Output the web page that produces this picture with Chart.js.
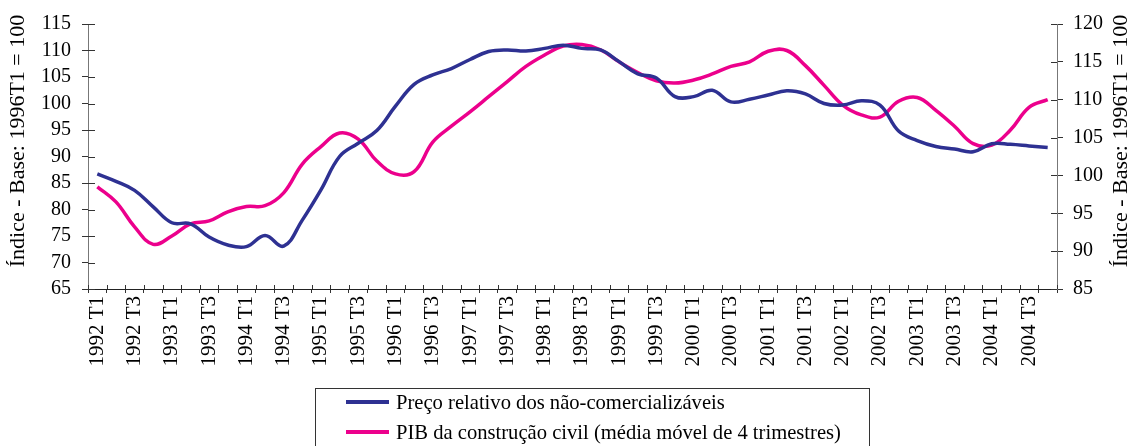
<!DOCTYPE html>
<html>
<head>
<meta charset="utf-8">
<script src="https://cdn.jsdelivr.net/npm/chart.js@4/dist/chart.umd.min.js"></script>
<style>
  body { margin: 0; background: #fff; }
  #caixa { position: relative; width: 1131px; height: 446px; overflow: hidden; }
  #legenda {
    position: absolute; left: 315px; top: 388px; width: 553px; height: 80px;
    border: 1px solid #333; font-family: "Liberation Serif", serif; font-size: 20.6px; color: #000;
  }
  .item { position: absolute; left: 0; height: 30px; line-height: 30px; white-space: nowrap; }
  .traco { position: absolute; left: 30px; top: 13px; width: 43px; height: 4px; }
  .texto { position: absolute; left: 80px; top: 0; }
</style>
</head>
<body>
<div id="caixa">
  <canvas id="grafico" width="1131" height="446"></canvas>
  <div id="legenda"></div>
</div>
<script>
const anos = [1992, 1993, 1994, 1995, 1996, 1997, 1998, 1999, 2000, 2001, 2002, 2003, 2004];
const trimestres = ['T1', 'T2', 'T3', 'T4'];

// Preço relativo dos não-comercializáveis (eixo esquerdo)
const precoRelativo = [
  86.7, 85.3, 83.6, 80.5, 77.5, 77.3, 74.8, 73.3, 73.0, 75.1, 73.1, 78.0, 83.7,
  90.0, 92.5, 94.9, 99.5, 103.6, 105.4, 106.6, 108.3, 109.8, 110.1, 109.9, 110.4, 111.0,
  110.4, 110.1, 107.9, 105.6, 104.8, 101.3, 101.3, 102.5, 100.3, 100.8, 101.6, 102.4, 101.8,
  100.0, 99.7, 100.5, 99.7, 94.8, 93.0, 91.9, 91.4, 90.9, 92.4, 92.3, 92.0, 91.7
];

// PIB da construção civil, média móvel de 4 trimestres (eixo direito)
const pibConstrucao = [
  98.5, 96.5, 93.2, 90.9, 92.0, 93.6, 94.0, 95.2, 95.9, 96.0, 97.7, 101.5, 103.8,
  105.6, 104.8, 101.9, 100.2, 100.5, 104.4, 106.5, 108.4, 110.4, 112.4, 114.4, 115.9, 117.1,
  117.3, 116.6, 115.0, 113.6, 112.5, 112.2, 112.6, 113.4, 114.4, 115.0, 116.4, 116.5, 114.5,
  111.9, 109.3, 108.0, 107.7, 109.8, 110.3, 108.6, 106.5, 104.2, 104.0, 106.0, 109.0, 110.0
];

const nomes = ['Preço relativo dos não-comercializáveis', 'PIB da construção civil (média móvel de 4 trimestres)'];
const cores = ['#2E3192', '#EC008C'];
const tituloEixo = 'Índice - Base: 1996T1 = 100';

let rotulos = [];
anos.forEach(a => trimestres.forEach(t => rotulos.push(a + ' ' + t)));

const fonte = 'Liberation Serif';

// marcas dos eixos cruzando a linha e titulos lidos de baixo para cima
const extras = {
  id: 'extras',
  afterDraw(chart) {
    const ctx = chart.ctx;
    const sx = chart.scales.x, sy = chart.scales.y, sy1 = chart.scales.y1;
    ctx.save();
    ctx.strokeStyle = '#333';
    ctx.lineWidth = 1;
    ctx.beginPath();
    for (let k = 0; k <= rotulos.length; k++) {
      const px = Math.round(sx.getPixelForValue(k - 0.5)) + 0.5;
      ctx.moveTo(px, sx.top - 4);
      ctx.lineTo(px, sx.top);
    }
    sy.ticks.forEach(t => {
      const py = Math.round(sy.getPixelForValue(t.value)) + 0.5;
      ctx.moveTo(sy.right, py);
      ctx.lineTo(sy.right + 7, py);
    });
    sy1.ticks.forEach(t => {
      const py = Math.round(sy1.getPixelForValue(t.value)) + 0.5;
      ctx.moveTo(sy1.left - 6, py);
      ctx.lineTo(sy1.left, py);
    });
    ctx.stroke();

    ctx.fillStyle = '#000';
    ctx.font = '22px "' + fonte + '"';
    ctx.textAlign = 'center';
    ctx.textBaseline = 'middle';
    [[18, 141], [1121, 141]].forEach(p => {
      ctx.save();
      ctx.translate(p[0], p[1]);
      ctx.rotate(-Math.PI / 2);
      ctx.fillText(tituloEixo, 0, 0);
      ctx.restore();
    });
    ctx.restore();
  }
};

const ctx = document.getElementById('grafico').getContext('2d');
const grafico = new Chart(ctx, {
  type: 'line',
  data: {
    labels: rotulos,
    datasets: [{
      label: nomes[0],
      data: precoRelativo,
      borderColor: cores[0],
      borderWidth: 3.5,
      pointRadius: 0,
      tension: 0.4,
      fill: false,
      yAxisID: 'y'
    }, {
      label: nomes[1],
      data: pibConstrucao,
      borderColor: cores[1],
      borderWidth: 3.5,
      pointRadius: 0,
      tension: 0.4,
      fill: false,
      yAxisID: 'y1'
    }]
  },
  options: {
    responsive: false,
    animation: false,
    devicePixelRatio: 1,
    layout: { padding: { top: 24, left: 0, right: 0, bottom: 0 } },
    plugins: { legend: { display: false }, tooltip: { enabled: false } },
    scales: {
      x: {
        offset: true,
        grid: { offset: true, drawOnChartArea: false, tickLength: 4, color: '#333' },
        border: { color: '#222' },
        ticks: {
          autoSkip: false, maxRotation: 90, minRotation: 90, padding: 3,
          color: '#000', font: { family: fonte, size: 21 },
          callback: function (v, i) { return i % 2 === 0 ? rotulos[i] : ''; }
        },
        afterFit: function (s) { s.height = 157; }
      },
      y: {
        position: 'left',
        min: 65, max: 115,
        grid: { drawOnChartArea: false, tickLength: 6, color: '#333' },
        border: { color: '#777' },
        ticks: { stepSize: 5, autoSkip: false, padding: 11, color: '#000', font: { family: fonte, size: 20 } },
        afterFit: function (s) { s.width = 88; }
      },
      y1: {
        position: 'right',
        min: 85, max: 120,
        grid: { drawOnChartArea: false, tickLength: 6, color: '#333' },
        border: { color: '#777' },
        ticks: { stepSize: 5, autoSkip: false, padding: 10, color: '#000', font: { family: fonte, size: 20 } },
        afterFit: function (s) { s.width = 74; }
      }
    }
  },
  plugins: [extras]
});

// legenda em caixa, como no original
const legenda = document.getElementById('legenda');
grafico.data.datasets.forEach((d, i) => {
  const item = document.createElement('div');
  item.className = 'item';
  item.style.top = (i * 30 - 2) + 'px';
  item.innerHTML = '<span class="traco" style="background:' + d.borderColor + '"></span><span class="texto"></span>';
  item.querySelector('.texto').textContent = d.label;
  legenda.appendChild(item);
});
</script>
</body>
</html>
